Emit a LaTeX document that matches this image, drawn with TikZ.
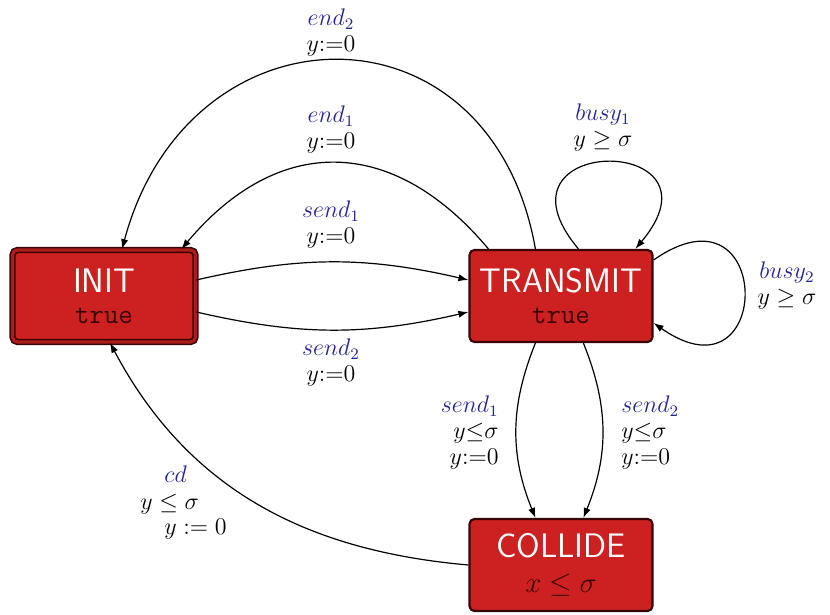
\documentclass[tikz,border=0pt]{standalone}
\usepackage{xcolor}
\usetikzlibrary{arrows.meta, positioning, calc}
\definecolor{locfill}{RGB}{205,32,32}
\definecolor{locline}{RGB}{55,5,5}
\definecolor{actblue}{RGB}{35,35,150}
\newcommand{\invtext}[1]{{\fontsize{14}{14}\selectfont\ttfamily\color{locline}#1}}
\begin{document}
\begin{tikzpicture}[x=0.5pt, y=0.5pt, >={Latex[length=5pt,width=3.6pt]},
    every node/.style={inner sep=1pt},
    loc/.style={rectangle, rounded corners=2.5pt, draw=locline, line width=1.1pt, fill=locfill,
        minimum width=91.5pt, minimum height=46pt, align=center, text=white,
        font=\fontsize{17}{15.5}\selectfont\sffamily},
    lbl/.style={align=center, font=\fontsize{12}{13}\selectfont},
    edge/.style={->, line width=0.6pt}]
    \useasboundingbox (0,0) rectangle (830,615);

    % locations
    \node[loc, double=locfill!85!black, double distance=1.6pt, line width=0.8pt] (init) at (104,319)
        {INIT\\\invtext{true}};
    \node[loc] (transmit) at (561,319) {TRANSMIT\\\invtext{true}};
    \node[loc] (collide) at (561,50)
        {COLLIDE\\[2pt]{\fontsize{14}{14}\selectfont\color{locline}$x\leq\sigma$}};

    % transitions
    \draw[edge] ([yshift=8pt]init.east) to[bend left=13] ([yshift=8pt]transmit.west);
    \draw[edge] ([yshift=-8pt]init.east) to[bend right=13] ([yshift=-8pt]transmit.west);
    \draw[edge] ([xshift=10pt]transmit.north west) to[out=130, in=50, looseness=1.25] ([xshift=-7.5pt]init.north east);
    \draw[edge] ([xshift=33.5pt]transmit.north west) to[out=100, in=75, looseness=1.6] ([xshift=9pt]init.north);
    \draw[edge] ([xshift=55pt]transmit.north west) to[out=130, in=50, looseness=6.8] ([xshift=83.5pt]transmit.north west);
    \draw[edge] ([yshift=18pt]transmit.east) to[out=35, in=-35, looseness=6] ([yshift=-13.5pt]transmit.east);
    \draw[edge] ([xshift=33.5pt]transmit.south west) to[bend right=22] ([xshift=33.5pt]collide.north west);
    \draw[edge] ([xshift=57.5pt]transmit.south west) to[bend left=22] ([xshift=57.5pt]collide.north west);
    \draw[edge] (collide.west) to[out=175, in=-62] ([xshift=3pt]init.south);

    % labels
    \node[lbl] (lend2) at (331,582) {\textcolor{actblue}{$end_2$}\\$y{:=}0$};
    \node[lbl] (lend1) at (331,485) {\textcolor{actblue}{$end_1$}\\$y{:=}0$};
    \node[lbl] (lsend1) at (331,390) {\textcolor{actblue}{$send_1$}\\$y{:=}0$};
    \node[lbl] (lsend2) at (331,252) {\textcolor{actblue}{$send_2$}\\$y{:=}0$};
    \node[lbl] (lbusy1) at (603,487) {\textcolor{actblue}{$busy_1$}\\$y\geq\sigma$};
    \node[lbl] (lbusy2) at (787,329) {\textcolor{actblue}{$busy_2$}\\$y\geq\sigma$};
    \node[lbl, align=right, anchor=east] (lcoll1) at (501,182)
        {\textcolor{actblue}{$send_1$}\\$y{\leq}\sigma$\\$y{:=}0$};
    \node[lbl, align=left, anchor=west] (lcoll2) at (619,182)
        {\textcolor{actblue}{$send_2$}\\$y{\leq}\sigma$\\$y{:=}0$};
    \node[lbl, align=left, anchor=west, font=\fontsize{13}{12.5}\selectfont] (lcd) at (138,112)
        {\hspace*{12pt}\textcolor{actblue}{$cd$}\\[1pt]$y\leq\sigma$\\\hspace*{12pt}$y:=0$};
\end{tikzpicture}
\end{document}
